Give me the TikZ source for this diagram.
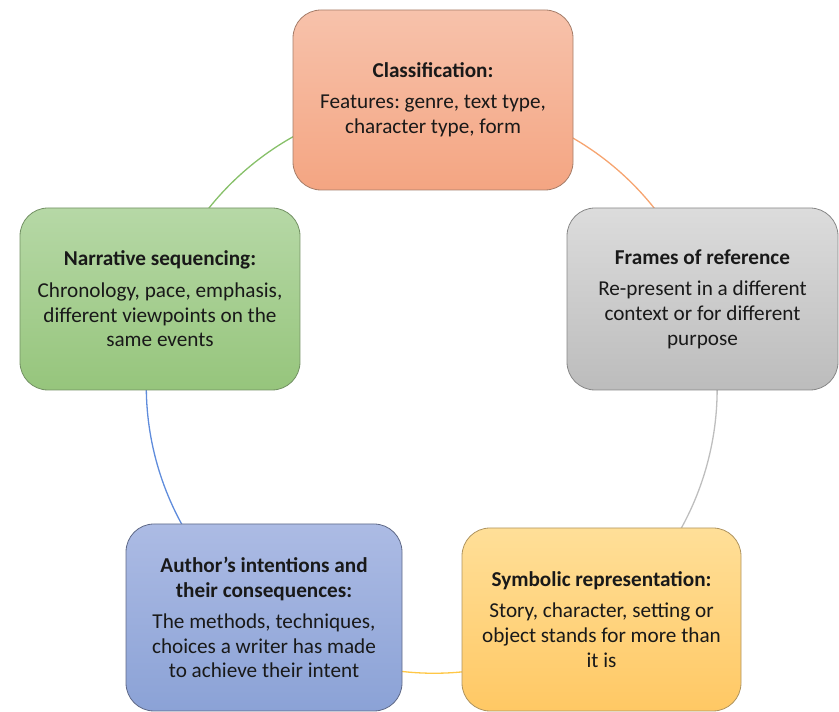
\documentclass[tikz,border=0pt]{standalone}
\usepackage{fontspec}
\setmainfont{Carlito}
\usetikzlibrary{backgrounds}
\frenchspacing
\definecolor{txt}{RGB}{25,25,25}
\definecolor{clsT}{RGB}{247,194,171}
\definecolor{clsB}{RGB}{244,165,130}
\definecolor{clsD}{RGB}{165,125,105}
\definecolor{frmT}{RGB}{220,220,220}
\definecolor{frmB}{RGB}{188,188,188}
\definecolor{frmD}{RGB}{135,135,135}
\definecolor{narT}{RGB}{182,216,166}
\definecolor{narB}{RGB}{150,197,124}
\definecolor{narD}{RGB}{115,145,100}
\definecolor{autT}{RGB}{172,187,228}
\definecolor{autB}{RGB}{139,162,214}
\definecolor{autD}{RGB}{95,105,135}
\definecolor{symT}{RGB}{255,223,152}
\definecolor{symB}{RGB}{255,200,100}
\definecolor{symD}{RGB}{175,148,95}
\definecolor{lnO}{RGB}{246,164,112}
\definecolor{lnG}{RGB}{190,190,190}
\definecolor{lnY}{RGB}{255,199,70}
\definecolor{lnB}{RGB}{95,140,220}
\definecolor{lnGr}{RGB}{135,192,105}
\begin{document}
\begin{tikzpicture}[x=1pt,y=1pt,
  box/.style={draw, rounded corners=28pt, inner sep=0pt, align=center,
    font=\fontsize{21.2}{24.8}\selectfont, text=txt, line width=0.8pt},
  link/.style={line width=1.3pt, bend left=36, looseness=0.94}
]
\useasboundingbox (0,0) rectangle (839,712);
\node[box, minimum width=280pt, minimum height=180pt, top color=clsT, bottom color=clsB, draw=clsD] (cls) at (433,612)
  {\textbf{Classification:}\\[6.5pt]Features: genre, text type,\\character type, form};
\node[box, minimum width=271pt, minimum height=182pt, top color=frmT, bottom color=frmB, draw=frmD] (frm) at (702.5,413)
  {\textbf{Frames of reference}\\[6.5pt]Re-present in a different\\context or for different\\purpose};
\node[box, minimum width=279pt, minimum height=183pt, top color=symT, bottom color=symB, draw=symD] (sym) at (601.5,92.5)
  {\textbf{Symbolic representation:}\\[6.5pt]Story, character, setting or\\object stands for more than\\it is};
\node[box, minimum width=276pt, minimum height=187pt, top color=autT, bottom color=autB, draw=autD] (aut) at (264,94.5)
  {\textbf{Author’s intentions and}\\\textbf{their consequences:}\\[6.5pt]The methods, techniques,\\choices a writer has made\\to achieve their intent};
\node[box, minimum width=280pt, minimum height=182pt, top color=narT, bottom color=narB, draw=narD] (nar) at (160,413)
  {\textbf{Narrative sequencing:}\\[6.5pt]Chronology, pace, emphasis,\\different viewpoints on the\\same events};
\begin{pgfonlayer}{background}
\draw[link, lnO] (cls.center) to (frm.center);
\draw[link, lnG] (frm.center) to (sym.center);
\draw[link, lnY] (sym.center) to (aut.center);
\draw[link, lnB] (aut.center) to (nar.center);
\draw[link, lnGr] (nar.center) to (cls.center);
\end{pgfonlayer}
\end{tikzpicture}
\end{document}
